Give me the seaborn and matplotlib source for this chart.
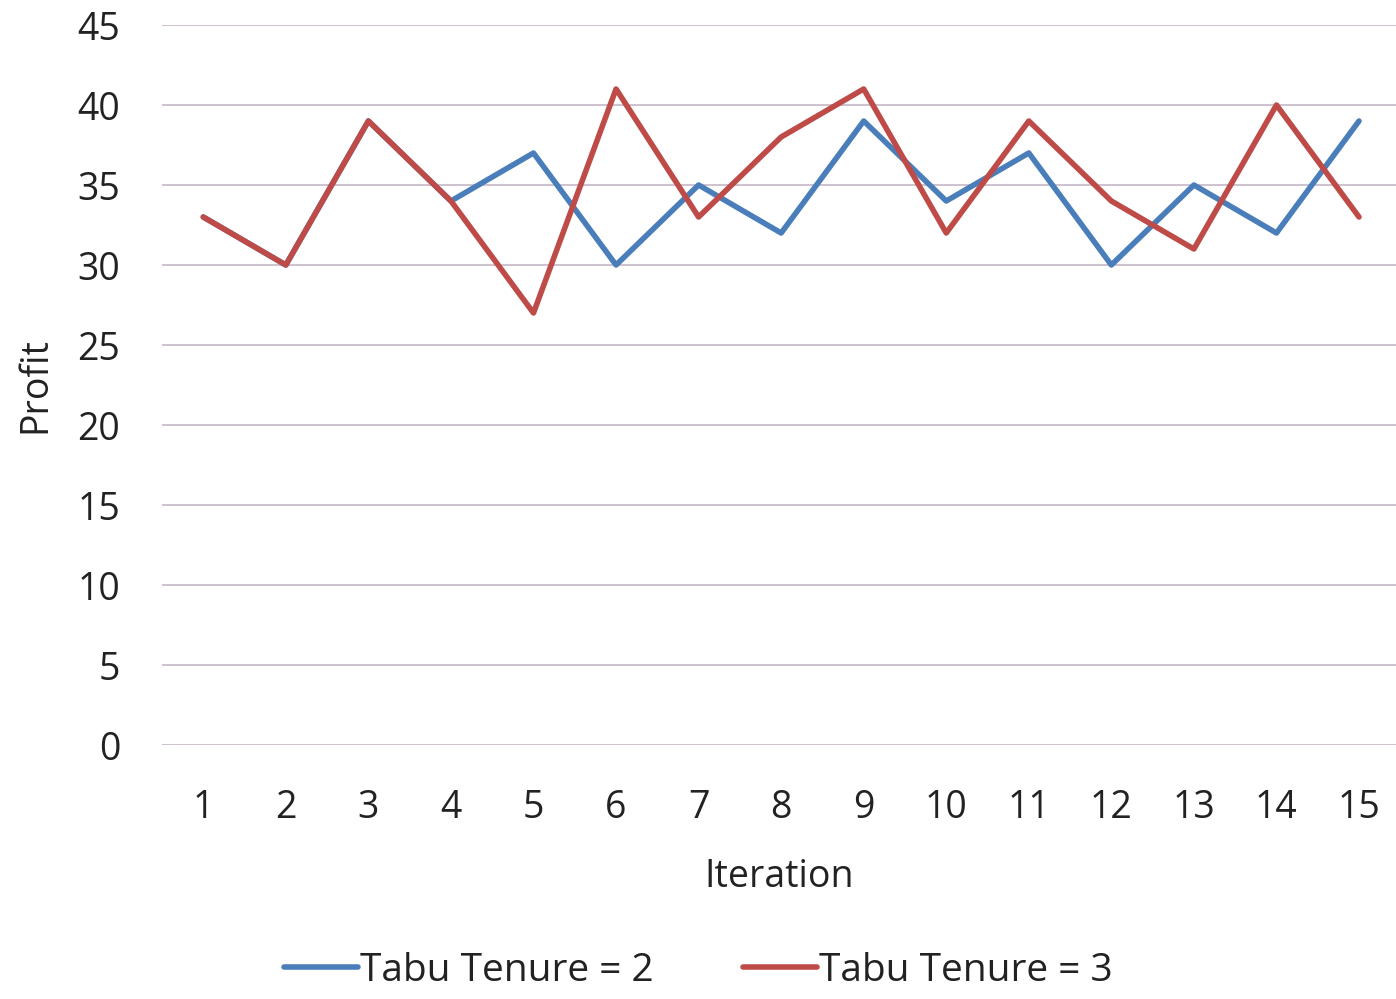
import matplotlib
matplotlib.use("Agg")
import matplotlib.pyplot as plt
import seaborn as sns
import pandas as pd

iterations = list(range(1, 16))
tenure_2 = [33, 30, 39, 34, 37, 30, 35, 32, 39, 34, 37, 30, 35, 32, 39]
tenure_3 = [33, 30, 39, 34, 27, 41, 33, 38, 41, 32, 39, 34, 31, 40, 33]
series_names = ["Tabu Tenure = 2", "Tabu Tenure = 3"]
y_ticks = [0, 5, 10, 15, 20, 25, 30, 35, 40, 45]

df = pd.DataFrame({
    "Iteration": iterations * 2,
    "Profit": tenure_2 + tenure_3,
    "Series": [series_names[0]] * len(iterations) + [series_names[1]] * len(iterations),
})

sns.set_theme(style="white")
plt.rcParams["font.family"] = ["Open Sans", "DejaVu Sans"]

fig = plt.figure(figsize=(13.96, 9.99), dpi=100)
ax = fig.add_axes([162 / 1396, 1 - 745 / 999, 1 - 162 / 1396, (745 - 25) / 999])

palette = {series_names[0]: "#4A7EBB", series_names[1]: "#BE4B48"}
sns.lineplot(data=df, x="Iteration", y="Profit", hue="Series", palette=palette,
             linewidth=4.0, ax=ax, legend=True, zorder=3)

ax.set_ylim(0, 45)
ax.set_xlim(0.5, 15.448)
ax.set_yticks(y_ticks)
ax.set_xticks(iterations)
ax.set_xticklabels([str(i) for i in iterations])
ax.yaxis.grid(True, color="#C9BDC9", linewidth=1.3)
ax.xaxis.grid(False)
for s in ax.spines.values():
    s.set_visible(False)
ax.tick_params(axis="both", length=0, labelsize=27, colors="#222222")
ax.tick_params(axis="y", pad=30)
ax.tick_params(axis="x", pad=32)
ax.set_xlabel("Iteration", fontsize=27, color="#222222", labelpad=22)
ax.set_ylabel("Profit", fontsize=27, color="#222222", labelpad=17)

handles, labels = ax.get_legend_handles_labels()
ax.legend_.remove()
fig.legend(handles, labels, loc="lower center", bbox_to_anchor=(0.5, -0.026), ncol=2,
           frameon=False, fontsize=28, handlelength=1.9, handletextpad=0.05,
           columnspacing=2.3, labelcolor="#222222")

fig.savefig("out.png", dpi=100)
